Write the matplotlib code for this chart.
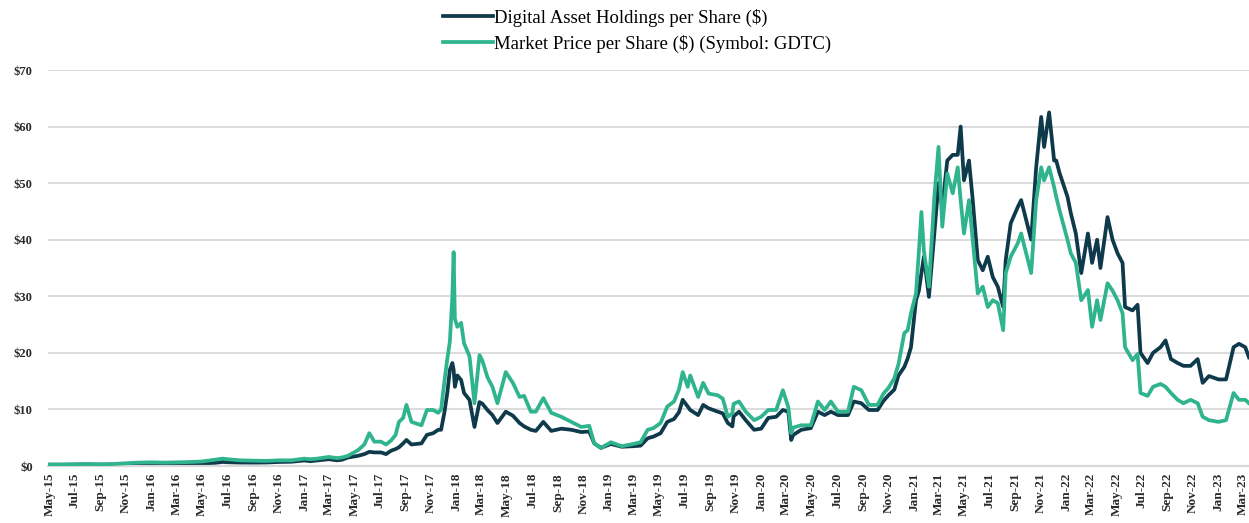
import numpy as np
import pandas as pd
import matplotlib
matplotlib.use("Agg")
import matplotlib.pyplot as plt
import matplotlib.dates as mdates
from matplotlib.ticker import FuncFormatter

# Valeurs (dates, actifs par part, cours de marche)
dates = [
    "2015-05-01", "2015-06-01", "2015-07-01", "2015-08-01", "2015-09-01", "2015-10-01",
    "2015-11-01", "2015-11-15", "2015-12-01", "2016-01-01", "2016-02-01", "2016-03-01",
    "2016-04-01", "2016-05-01", "2016-06-01", "2016-06-20", "2016-07-01", "2016-08-01",
    "2016-09-01", "2016-10-01", "2016-11-01", "2016-12-01", "2017-01-01", "2017-01-15",
    "2017-02-01", "2017-03-01", "2017-03-20", "2017-04-01", "2017-04-16", "2017-05-10",
    "2017-05-25", "2017-06-06", "2017-06-18", "2017-07-04", "2017-07-16", "2017-07-28",
    "2017-08-08", "2017-08-16", "2017-08-26", "2017-09-03", "2017-09-15", "2017-09-27",
    "2017-10-09", "2017-10-22", "2017-11-06", "2017-11-18", "2017-11-25", "2017-12-03",
    "2017-12-10", "2017-12-16", "2017-12-22", "2017-12-25", "2017-12-28", "2018-01-03",
    "2018-01-12", "2018-01-19", "2018-02-01", "2018-02-13", "2018-02-25", "2018-03-04",
    "2018-03-16", "2018-03-28", "2018-04-09", "2018-04-29", "2018-05-16", "2018-06-01",
    "2018-06-12", "2018-06-28", "2018-07-10", "2018-07-28", "2018-08-16", "2018-09-09",
    "2018-10-03", "2018-10-27", "2018-11-15", "2018-11-27", "2018-12-13", "2019-01-06",
    "2019-02-01", "2019-03-01", "2019-03-18", "2019-04-04", "2019-04-18", "2019-05-05",
    "2019-05-21", "2019-06-06", "2019-06-18", "2019-06-27", "2019-07-09", "2019-07-15",
    "2019-08-03", "2019-08-15", "2019-08-28", "2019-09-19", "2019-10-01", "2019-10-13",
    "2019-10-24", "2019-10-27", "2019-11-09", "2019-11-25", "2019-12-15", "2020-01-01",
    "2020-01-18", "2020-02-06", "2020-02-22", "2020-03-06", "2020-03-13", "2020-03-18",
    "2020-04-06", "2020-04-29", "2020-05-16", "2020-06-01", "2020-06-16", "2020-07-03",
    "2020-07-27", "2020-08-10", "2020-08-28", "2020-09-15", "2020-10-06", "2020-10-20",
    "2020-11-01", "2020-11-15", "2020-11-25", "2020-12-09", "2020-12-17", "2020-12-25",
    "2021-01-06", "2021-01-13", "2021-01-19", "2021-01-25", "2021-02-06", "2021-02-19",
    "2021-03-01", "2021-03-10", "2021-03-22", "2021-04-04", "2021-04-16", "2021-04-23",
    "2021-05-01", "2021-05-13", "2021-05-22", "2021-06-03", "2021-06-15", "2021-06-27",
    "2021-07-09", "2021-07-21", "2021-08-03", "2021-08-09", "2021-08-21", "2021-09-07",
    "2021-09-15", "2021-09-27", "2021-10-09", "2021-10-21", "2021-11-02", "2021-11-09",
    "2021-11-21", "2021-12-03", "2021-12-08", "2021-12-16", "2022-01-04", "2022-01-12",
    "2022-01-24", "2022-02-06", "2022-02-22", "2022-03-04", "2022-03-16", "2022-03-24",
    "2022-04-10", "2022-04-22", "2022-05-04", "2022-05-16", "2022-05-22", "2022-06-09",
    "2022-06-21", "2022-06-28", "2022-07-15", "2022-07-28", "2022-08-15", "2022-08-27",
    "2022-09-09", "2022-09-25", "2022-10-09", "2022-10-26", "2022-11-12", "2022-11-24",
    "2022-12-09", "2023-01-01", "2023-01-19", "2023-02-06", "2023-02-19", "2023-03-06",
    "2023-03-15",
]

holdings = [
    0.24, 0.23, 0.26, 0.28, 0.23, 0.24,
    0.33, 0.36, 0.38, 0.43, 0.38, 0.43,
    0.42, 0.45, 0.55, 0.72, 0.66, 0.60,
    0.59, 0.61, 0.71, 0.75, 0.98, 0.85,
    0.98, 1.20, 1.00, 1.10, 1.50, 1.80,
    2.10, 2.50, 2.40, 2.40, 2.10, 2.70,
    3.00, 3.30, 4.00, 4.60, 3.80, 3.90,
    4.00, 5.50, 5.80, 6.40, 6.40, 9.50,
    13.0, 17.0, 18.2, 17.0, 14.0, 16.0,
    15.2, 12.9, 11.7, 6.90, 11.3, 11.0,
    9.90, 9.00, 7.60, 9.60, 8.90, 7.60,
    7.00, 6.40, 6.20, 7.80, 6.20, 6.60,
    6.40, 6.00, 6.10, 4.00, 3.20, 3.90,
    3.40, 3.50, 3.60, 4.90, 5.20, 5.80,
    7.80, 8.30, 9.50, 11.7, 10.5, 9.90,
    9.00, 10.8, 10.2, 9.60, 9.30, 7.60,
    7.00, 8.80, 9.60, 8.10, 6.40, 6.60,
    8.50, 8.70, 9.90, 9.60, 4.60, 5.50,
    6.40, 6.70, 9.60, 9.00, 9.60, 9.00,
    9.00, 11.4, 11.1, 9.90, 9.90, 11.5,
    12.5, 13.5, 16.0, 17.5, 19.0, 21.0,
    29.3, 31.0, 34.1, 37.0, 29.9, 41.1,
    50.0, 45.8, 54.0, 55.0, 55.0, 60.0,
    50.5, 54.0, 47.0, 36.4, 34.6, 37.0,
    33.4, 31.7, 28.1, 36.4, 42.9, 45.8,
    47.0, 43.5, 40.0, 52.8, 61.7, 56.4,
    62.5, 54.0, 54.0, 51.8, 47.6, 44.7,
    41.1, 34.1, 41.1, 35.9, 40.0, 35.0,
    44.0, 40.0, 37.6, 35.9, 28.1, 27.5,
    28.5, 20.0, 18.2, 20.0, 21.0, 22.2,
    18.9, 18.2, 17.7, 17.7, 18.9, 14.7,
    15.9, 15.3, 15.3, 21.0, 21.6, 21.0,
    19.2,
]

market = [
    0.25, 0.25, 0.30, 0.35, 0.30, 0.35,
    0.50, 0.55, 0.60, 0.65, 0.60, 0.65,
    0.70, 0.80, 1.10, 1.30, 1.20, 1.00,
    0.95, 0.90, 1.00, 1.00, 1.30, 1.20,
    1.30, 1.60, 1.40, 1.50, 1.80, 2.80,
    3.80, 5.80, 4.30, 4.30, 3.80, 4.50,
    5.50, 7.80, 8.50, 10.8, 7.80, 7.50,
    7.20, 9.90, 9.90, 9.40, 10.0, 15.0,
    19.0, 22.0, 30.0, 37.8, 26.0, 24.6,
    25.3, 21.7, 19.4, 11.1, 19.6, 18.6,
    15.7, 14.0, 11.1, 16.6, 14.7, 12.2,
    12.4, 9.60, 9.60, 12.0, 9.40, 8.70,
    7.80, 6.90, 7.10, 4.00, 3.20, 4.20,
    3.50, 3.90, 4.20, 6.40, 6.70, 7.60,
    10.5, 11.4, 13.5, 16.6, 14.0, 16.0,
    12.2, 14.7, 12.8, 12.5, 11.9, 8.70,
    9.30, 11.0, 11.4, 9.60, 8.10, 8.70,
    9.90, 9.90, 13.4, 10.4, 5.80, 6.80,
    7.20, 7.20, 11.4, 9.90, 11.4, 9.60,
    9.60, 14.0, 13.4, 10.8, 10.8, 12.8,
    13.8, 15.5, 18.0, 23.5, 24.0, 27.0,
    30.5, 38.0, 44.9, 38.0, 31.7, 47.6,
    56.4, 42.3, 51.7, 48.2, 52.8, 47.0,
    41.1, 47.0, 40.0, 30.5, 31.7, 28.1,
    29.3, 28.8, 24.0, 34.1, 37.0, 39.4,
    41.1, 37.6, 34.1, 47.0, 52.8, 50.5,
    52.8, 49.3, 47.6, 45.2, 40.0, 37.6,
    35.9, 29.3, 31.1, 24.6, 29.3, 25.8,
    32.3, 31.0, 29.3, 27.0, 21.0, 18.7,
    19.8, 12.9, 12.4, 14.0, 14.5, 14.0,
    12.9, 11.7, 11.1, 11.7, 11.1, 8.70,
    8.10, 7.80, 8.10, 12.9, 11.7, 11.7,
    11.1,
]

tick_dates = pd.date_range("2015-05-01", "2023-03-01", freq="2MS")

DARK = "#0F3A4C"
TEAL = "#2FB48E"
GRID = "#D9D9D9"

df = pd.DataFrame({"date": pd.to_datetime(dates), "holdings": holdings, "market": market})

fig = plt.figure(figsize=(12.49, 5.23), dpi=100)
ax = fig.add_axes([48 / 1249, 57 / 523, 1 - 48 / 1249, 396 / 523])

ax.plot(df["date"], df["market"], color=TEAL, linewidth=2.7, solid_joinstyle="round",
        label="Market Price per Share ($) (Symbol: GDTC)", zorder=3)
ax.plot(df["date"], df["holdings"], color=DARK, linewidth=2.7, solid_joinstyle="round",
        label="Digital Asset Holdings per Share ($)", zorder=2)

ax.set_ylim(0, 70)
ax.set_yticks(np.arange(0, 71, 10))
ax.yaxis.set_major_formatter(FuncFormatter(lambda v, p: f"${v:.0f}"))
ax.set_xlim(pd.Timestamp("2015-04-28"), pd.Timestamp("2023-03-15"))
ax.set_xticks(tick_dates)
ax.xaxis.set_major_formatter(mdates.DateFormatter("%b-%y"))

ax.grid(axis="y", color=GRID, linewidth=1.3)
ax.set_axisbelow(True)
for s in ["top", "right", "left"]:
    ax.spines[s].set_visible(False)
ax.spines["bottom"].set_color(GRID)
ax.spines["bottom"].set_linewidth(1.6)

ax.tick_params(axis="both", length=0, colors="#2A2A2A")
for lab in ax.get_xticklabels():
    lab.set_rotation(90)
    lab.set_fontsize(9.5)
    lab.set_fontweight("bold")
    lab.set_family("Liberation Serif")
for lab in ax.get_yticklabels():
    lab.set_fontsize(9)
    lab.set_fontweight("bold")
    lab.set_family("Liberation Serif")
ax.tick_params(axis="y", pad=11)
ax.tick_params(axis="x", pad=5)

handles, labels = ax.get_legend_handles_labels()
fig.legend(handles[::-1], labels[::-1], loc="upper center", bbox_to_anchor=(0.51, 1.015),
           frameon=False, handlelength=2.7, handletextpad=0.05, labelspacing=0.4,
           prop={"family": "Liberation Serif", "size": 13.5})

fig.savefig("out.png", dpi=100)
